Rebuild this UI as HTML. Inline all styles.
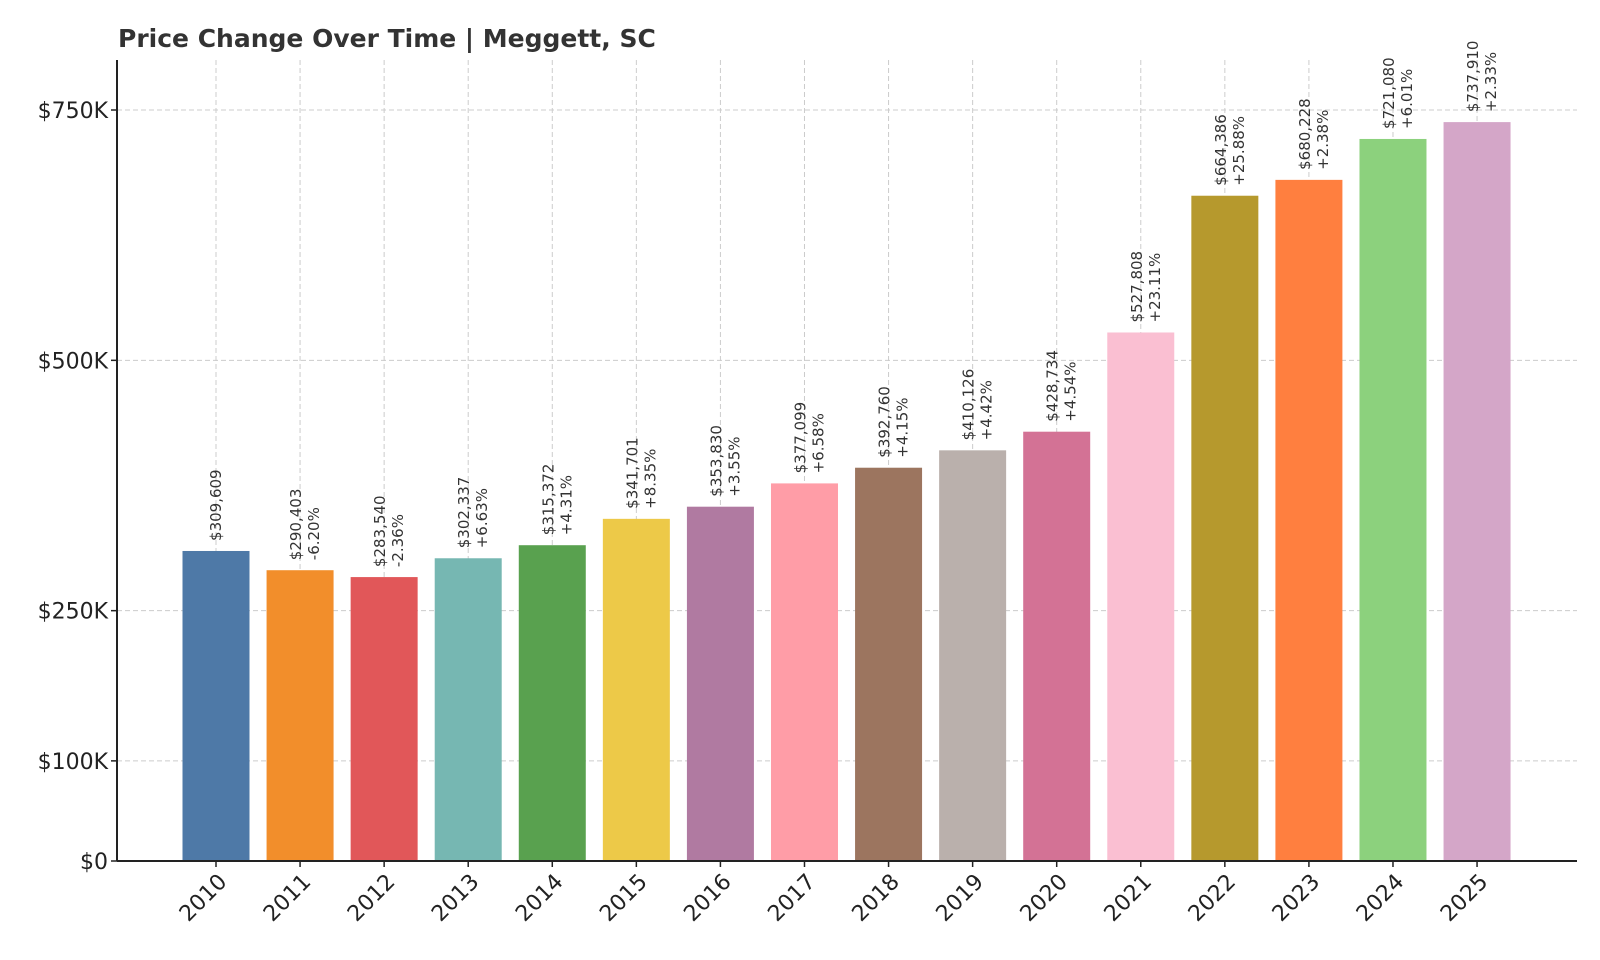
<!DOCTYPE html>
<html><head><meta charset="utf-8"><style>
body{margin:0;background:#fff;}
svg{display:block;font-family:"DejaVu Sans","Liberation Sans",sans-serif;}
</style></head><body>
<svg id="chart" width="1600" height="960" viewBox="0 0 1600 960">
<text x="118" y="47" font-size="25" font-weight="bold" fill="#333">Price Change Over Time | Meggett, SC</text>
<g id="grid"></g><g id="bars"></g><g id="labels"></g><g id="axes"></g>
</svg>
<script>
const years=["2010","2011","2012","2013","2014","2015","2016","2017","2018","2019","2020","2021","2022","2023","2024","2025"];
const values=[309609,290403,283540,302337,315372,341701,353830,377099,392760,410126,428734,527808,664386,680228,721080,737910];
const changes=["","-6.20%","-2.36%","+6.63%","+4.31%","+8.35%","+3.55%","+6.58%","+4.15%","+4.42%","+4.54%","+23.11%","+25.88%","+2.38%","+6.01%","+2.33%"];
const yTicks=[0,100000,250000,500000,750000];
const yTickLabels=["$0","$100K","$250K","$500K","$750K"];
const colors=["#4e79a7","#f28e2b","#e15759","#76b7b2","#59a14f","#edc948","#b07aa1","#ff9da7","#9c755f","#bab0ac","#d37295","#fabfd2","#b6992d","#ff7f3f","#8cd17d","#d4a6c8"];
const NS="http://www.w3.org/2000/svg";
const x0=117,x1=1577,yBase=861,yTop=60;
const y=v=>yBase-v*(751/750000);
const xc=i=>216+i*84.07;
const bw=67;
function mk(tag,attrs,parent){const e=document.createElementNS(NS,tag);for(const k in attrs)e.setAttribute(k,attrs[k]);parent.appendChild(e);return e;}
const grid=document.getElementById('grid'),bars=document.getElementById('bars'),labels=document.getElementById('labels'),axes=document.getElementById('axes');
yTicks.forEach((t,i)=>{
 const g=mk('line',{x1:x0,x2:x1,y1:y(t),y2:y(t),stroke:'#ccc','stroke-dasharray':'5,3','stroke-width':1},grid);
 
 
 const tk=mk('line',{x1:x0-6,x2:x0,y1:y(t),y2:y(t),stroke:'#222','stroke-width':1.5},axes);
 
 
 const tl=mk('text',{x:x0-9,y:y(t)+8,'text-anchor':'end','font-size':22,fill:'#222'},axes);
 tl.textContent=yTickLabels[i];
 
 
});
years.forEach((yr,i)=>{
 const cx=xc(i);
 const g=mk('line',{x1:cx,x2:cx,y1:yTop,y2:yBase,stroke:'#ccc','stroke-dasharray':'5,3','stroke-width':1},grid);
 
 
 const r=mk('rect',{x:cx-bw/2,y:y(values[i]),width:bw,height:yBase-y(values[i]),fill:colors[i]},bars);
 
 
 const tx=cx+5,ty=y(values[i])-10;
 const t=mk('text',{transform:`translate(${tx},${ty}) rotate(-90)`,'font-size':15,fill:'#333'},labels);
 
 
 const s1=mk('tspan',{x:0,dy:changes[i]?-4:0},t);s1.textContent='$'+values[i].toLocaleString('en-US');
 if(changes[i]){const s2=mk('tspan',{x:0,dy:18},t);s2.textContent=changes[i];}
 const tk=mk('line',{x1:cx,x2:cx,y1:yBase,y2:yBase+6,stroke:'#222','stroke-width':1.5},axes);
 
 
 const xl=mk('text',{transform:`translate(${cx+12},${yBase+22}) rotate(-45)`,'text-anchor':'end','font-size':22,fill:'#222'},axes);
 xl.textContent=yr;
 
 
});
const la=mk('line',{x1:x0,x2:x0,y1:yTop,y2:yBase,stroke:'#222','stroke-width':2},axes);


const ba=mk('line',{x1:x0,x2:x1,y1:yBase,y2:yBase,stroke:'#222','stroke-width':2},axes);


</script>
</body></html>
